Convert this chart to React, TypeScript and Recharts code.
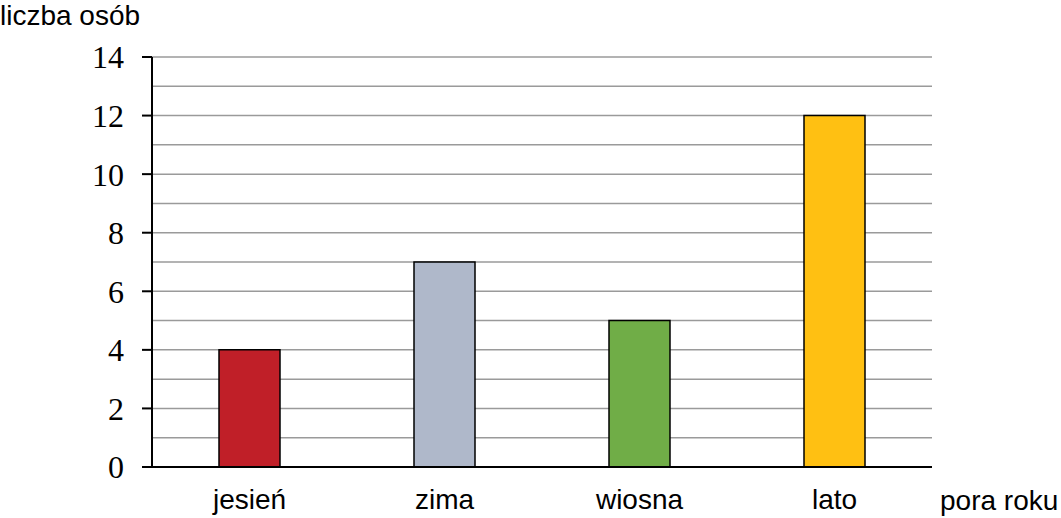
import React from 'react';
import { BarChart, Bar, XAxis, YAxis, Cell, CartesianGrid } from 'recharts';

const categories = ['jesień', 'zima', 'wiosna', 'lato'];
const values = [4, 7, 5, 12];
const colors = ['#C01F28', '#AFB8CA', '#70AD47', '#FFC012'];
const yTicks = [0, 2, 4, 6, 8, 10, 12, 14];
const gridValues = [1, 2, 3, 4, 5, 6, 7, 8, 9, 10, 11, 12, 13, 14];

const data = categories.map((c, i) => ({ name: c, value: values[i] }));

const sans = 'Liberation Sans, Arial, sans-serif';

export default function App() {
  return (
    <div style={{ position: 'absolute', left: 0, top: 0, width: 1061, height: 518, background: '#fff', overflow: 'hidden' }}>
      <BarChart width={1061} height={518} data={data} margin={{ top: 57, right: 129, bottom: 0, left: 0 }} barSize={61}>
        <CartesianGrid
          yAxisId="left"
          vertical={false}
          horizontalValues={gridValues}
          stroke="#9a9a9a"
          strokeWidth={1.5}
        />
        <XAxis
          dataKey="name"
          height={51}
          axisLine={{ stroke: '#000', strokeWidth: 2 }}
          tickLine={false}
          tickSize={0}
          tickMargin={22}
          tick={{ fill: '#000', fontSize: 28, fontFamily: sans }}
          interval={0}
        />
        <YAxis
          yAxisId="left"
          width={152}
          domain={[0, 14]}
          ticks={yTicks}
          interval={0}
          axisLine={{ stroke: '#000', strokeWidth: 2 }}
          tickLine={{ stroke: '#000', strokeWidth: 2 }}
          tickSize={10}
          tickMargin={18}
          tick={{ fill: '#000', fontSize: 32, fontFamily: 'Liberation Serif, serif' }}
        />
        <YAxis
          yAxisId="right"
          orientation="right"
          width={0}
          domain={[0, 14]}
          tick={false}
          tickLine={false}
          axisLine={{ stroke: '#9a9a9a', strokeWidth: 1.5 }}
        />
        <Bar yAxisId="left" dataKey="value" stroke="#000" strokeWidth={1.5} isAnimationActive={false}>
          {data.map((d, i) => (
            <Cell key={d.name} fill={colors[i]} />
          ))}
        </Bar>
      </BarChart>
      <div style={{ position: 'absolute', left: 0, top: 1, whiteSpace: 'nowrap', fontFamily: sans, fontSize: 28, lineHeight: '30px', color: '#000' }}>
        liczba osób
      </div>
      <div style={{ position: 'absolute', left: 940, top: 485, whiteSpace: 'nowrap', fontFamily: sans, fontSize: 28, lineHeight: '32px', color: '#000' }}>
        pora roku
      </div>
    </div>
  );
}
